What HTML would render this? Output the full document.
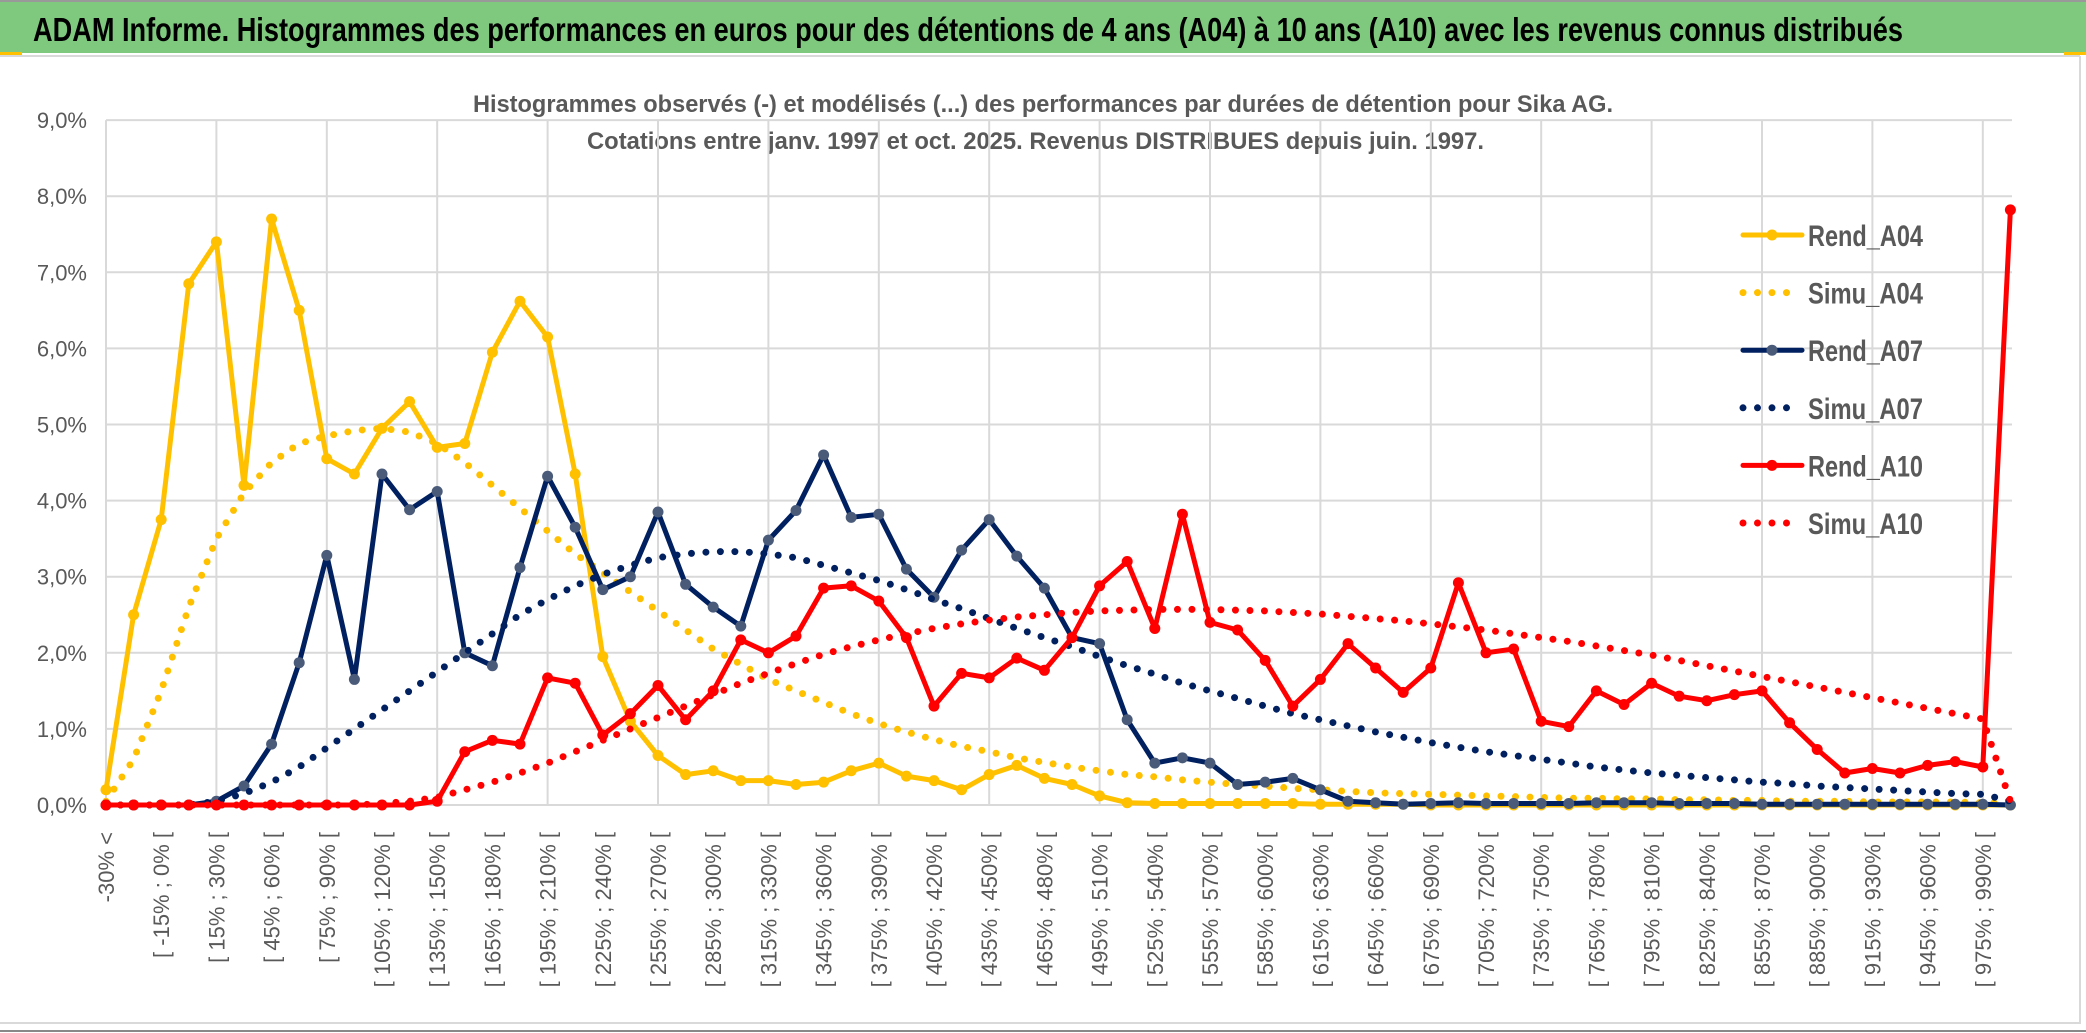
<!DOCTYPE html>
<html><head><meta charset="utf-8"><style>
html,body{margin:0;padding:0;background:#fff;}
svg{display:block;font-family:"Liberation Sans",sans-serif;}
</style></head><body>
<svg id="chart" width="2086" height="1033" viewBox="0 0 2086 1033">
<rect x="0" y="0" width="2086" height="1033" fill="#fff"/>
<rect x="0" y="2" width="2086" height="51" fill="#7ec97e"/>
<line x1="0" y1="1" x2="2086" y2="1" stroke="#999" stroke-width="2"/>
<rect x="0" y="52" width="22" height="3" fill="#ffc000"/>
<rect x="2064" y="52" width="22" height="3" fill="#ffc000"/>
<line x1="0" y1="56" x2="2080" y2="56" stroke="#d9d9d9" stroke-width="2"/>
<line x1="2080" y1="56" x2="2080" y2="1024" stroke="#d9d9d9" stroke-width="2"/>
<line x1="0" y1="1023" x2="2080" y2="1023" stroke="#d9d9d9" stroke-width="2"/>
<line x1="0" y1="1031" x2="2086" y2="1031" stroke="#888" stroke-width="2"/>
<text x="33" y="41" font-size="33" font-weight="bold" fill="#000" textLength="1870" lengthAdjust="spacingAndGlyphs">ADAM Informe. Histogrammes des performances en euros pour des détentions de 4 ans (A04) à 10 ans (A10) avec les revenus connus distribués</text>
<text x="473" y="112" font-size="24" font-weight="bold" fill="#595959" textLength="1140" lengthAdjust="spacingAndGlyphs">Histogrammes observés (-) et modélisés (...) des performances par durées de détention pour Sika AG.</text>
<text x="587" y="149" font-size="24" font-weight="bold" fill="#595959" textLength="897" lengthAdjust="spacingAndGlyphs">Cotations entre janv. 1997 et oct. 2025. Revenus DISTRIBUES depuis juin. 1997.</text>
<g id="grid"></g>
<g id="ylabels"></g>
<g id="xlabels"></g>
<g id="series"></g>
<g id="legend"></g>
</svg>
<script>
const categories = ["-30% <","[ -30% ; -15% [","[ -15% ; 0% [","[ 0% ; 15% [","[ 15% ; 30% [","[ 30% ; 45% [","[ 45% ; 60% [","[ 60% ; 75% [","[ 75% ; 90% [","[ 90% ; 105% [",
"[ 105% ; 120% [","[ 120% ; 135% [","[ 135% ; 150% [","[ 150% ; 165% [","[ 165% ; 180% [","[ 180% ; 195% [","[ 195% ; 210% [","[ 210% ; 225% [","[ 225% ; 240% [","[ 240% ; 255% [",
"[ 255% ; 270% [","[ 270% ; 285% [","[ 285% ; 300% [","[ 300% ; 315% [","[ 315% ; 330% [","[ 330% ; 345% [","[ 345% ; 360% [","[ 360% ; 375% [","[ 375% ; 390% [","[ 390% ; 405% [",
"[ 405% ; 420% [","[ 420% ; 435% [","[ 435% ; 450% [","[ 450% ; 465% [","[ 465% ; 480% [","[ 480% ; 495% [","[ 495% ; 510% [","[ 510% ; 525% [","[ 525% ; 540% [","[ 540% ; 555% [",
"[ 555% ; 570% [","[ 570% ; 585% [","[ 585% ; 600% [","[ 600% ; 615% [","[ 615% ; 630% [","[ 630% ; 645% [","[ 645% ; 660% [","[ 660% ; 675% [","[ 675% ; 690% [","[ 690% ; 705% [",
"[ 705% ; 720% [","[ 720% ; 735% [","[ 735% ; 750% [","[ 750% ; 765% [","[ 765% ; 780% [","[ 780% ; 795% [","[ 795% ; 810% [","[ 810% ; 825% [","[ 825% ; 840% [","[ 840% ; 855% [",
"[ 855% ; 870% [","[ 870% ; 885% [","[ 885% ; 900% [","[ 900% ; 915% [","[ 915% ; 930% [","[ 930% ; 945% [","[ 945% ; 960% [","[ 960% ; 975% [","[ 975% ; 990% [","990% <="];
const yTicks = [0,1,2,3,4,5,6,7,8,9];
const yTickLabels = ["0,0%","1,0%","2,0%","3,0%","4,0%","5,0%","6,0%","7,0%","8,0%","9,0%"];
const rendA04 = [0.2,2.5,3.75,6.85,7.4,4.2,7.7,6.5,4.55,4.35,4.95,5.3,4.7,4.75,5.95,6.62,6.15,4.35,1.95,1.1,0.65,0.4,0.45,0.32,0.32,0.27,0.3,0.45,0.55,0.38,0.32,0.2,0.4,0.52,0.35,0.27,0.12,0.03,0.02,0.02,0.02,0.02,0.02,0.02,0.01,0.01,0.01,0.01,0,0,0,0,0,0,0,0,0,0,0,0,0,0,0,0,0,0,0,0,0,0];
const simuA04 = [0.05,0.6,1.5,2.6,3.5,4.1,4.5,4.75,4.85,4.92,4.95,4.9,4.75,4.5,4.2,3.9,3.6,3.3,3.05,2.8,2.55,2.3,2.05,1.85,1.65,1.5,1.35,1.2,1.07,0.96,0.86,0.77,0.7,0.62,0.56,0.5,0.45,0.4,0.37,0.33,0.3,0.27,0.25,0.22,0.2,0.18,0.16,0.15,0.14,0.13,0.12,0.11,0.1,0.09,0.09,0.08,0.08,0.07,0.07,0.06,0.06,0.05,0.05,0.05,0.04,0.04,0.04,0.04,0.03,0.03];
const rendA07 = [0,0,0,0,0.05,0.25,0.8,1.87,3.28,1.65,4.35,3.88,4.12,2.0,1.83,3.12,4.32,3.65,2.83,3.0,3.85,2.9,2.6,2.35,3.48,3.87,4.6,3.78,3.82,3.1,2.73,3.35,3.75,3.27,2.85,2.2,2.12,1.12,0.55,0.62,0.55,0.27,0.3,0.35,0.2,0.05,0.03,0.01,0.02,0.03,0.02,0.02,0.02,0.02,0.03,0.03,0.03,0.02,0.02,0.02,0.01,0.01,0.01,0.01,0.01,0.01,0.01,0.01,0.01,0];
const simuA07 = [0,0,0,0,0.05,0.15,0.3,0.5,0.75,1.0,1.25,1.5,1.75,2.0,2.25,2.5,2.7,2.88,3.03,3.15,3.25,3.3,3.33,3.33,3.3,3.25,3.15,3.05,2.95,2.83,2.7,2.58,2.45,2.32,2.2,2.08,1.95,1.83,1.72,1.6,1.5,1.4,1.3,1.2,1.12,1.04,0.96,0.89,0.82,0.76,0.7,0.65,0.6,0.55,0.5,0.46,0.42,0.39,0.36,0.33,0.3,0.28,0.25,0.23,0.21,0.19,0.17,0.15,0.14,0.05];
const rendA10 = [0,0,0,0,0,0,0,0,0,0,0,0,0.05,0.7,0.85,0.8,1.67,1.6,0.92,1.2,1.57,1.12,1.5,2.17,2.0,2.22,2.85,2.88,2.68,2.2,1.3,1.73,1.67,1.93,1.77,2.2,2.88,3.2,2.32,3.82,2.4,2.3,1.9,1.3,1.65,2.12,1.8,1.48,1.8,2.92,2.0,2.05,1.1,1.03,1.5,1.32,1.6,1.43,1.37,1.45,1.5,1.08,0.73,0.42,0.48,0.42,0.52,0.57,0.5,7.82];
const simuA10 = [0,0,0,0,0,0,0,0,0,0,0.02,0.05,0.1,0.2,0.3,0.42,0.55,0.7,0.85,1.0,1.15,1.3,1.45,1.6,1.73,1.86,1.98,2.08,2.17,2.25,2.32,2.38,2.43,2.47,2.5,2.53,2.55,2.56,2.57,2.57,2.57,2.56,2.55,2.53,2.51,2.48,2.45,2.42,2.38,2.34,2.3,2.25,2.2,2.15,2.09,2.03,1.97,1.9,1.83,1.76,1.69,1.62,1.55,1.48,1.41,1.34,1.27,1.2,1.13,0.05];
const seriesNames = ["Rend_A04","Simu_A04","Rend_A07","Simu_A07","Rend_A10","Simu_A10"];

const NS="http://www.w3.org/2000/svg";
const X0=106, DX=27.6, Y0=805, DY=76.1, XR=2012;
function xs(i){return X0+i*DX;}
function ys(v){return Y0-v*DY;}
function mk(tag,attrs,parent){const e=document.createElementNS(NS,tag);for(const k in attrs)e.setAttribute(k,attrs[k]);parent.appendChild(e);return e;}

const grid=document.getElementById('grid');
yTicks.forEach(t=>{
  const l=mk('line',{x1:X0,x2:XR,y1:ys(t),y2:ys(t),stroke:'#d9d9d9','stroke-width':2},grid);
  
  
});
for(let i=0;i<categories.length;i+=4){
  const l=mk('line',{x1:xs(i),x2:xs(i),y1:ys(9),y2:ys(0),stroke:'#d9d9d9','stroke-width':2},grid);
  
  
}
const yl=document.getElementById('ylabels');
yTicks.forEach((t,k)=>{
  const tx=mk('text',{x:87,y:ys(t)+8,'text-anchor':'end','font-size':22,fill:'#595959'},yl);
  tx.textContent=yTickLabels[k];
  
  
});
const xl=document.getElementById('xlabels');
categories.forEach((c,i)=>{
  if(i%2) return;
  const x=xs(i)+8, y=832;
  const tx=mk('text',{x:x,y:y,'text-anchor':'end','font-size':22,fill:'#595959',transform:`rotate(-90 ${x} ${y})`},xl);
  tx.textContent=c;
  
  
});

const sg=document.getElementById('series');
function drawRend(vals,color,mfill,name){
  const g=mk('g',{},sg);
  
  
  const pts=vals.map((v,i)=>xs(i).toFixed(1)+','+ys(v).toFixed(1)).join(' ');
  mk('polyline',{points:pts,fill:'none',stroke:color,'stroke-width':5,'stroke-linejoin':'round'},g);
  vals.forEach((v,i)=>{
    const c=mk('circle',{cx:xs(i),cy:ys(v),r:5.5,fill:mfill},g);
    
    
  });
}
function drawSimu(vals,color,name){
  const pts=vals.map((v,i)=>xs(i).toFixed(1)+','+ys(v).toFixed(1)).join(' ');
  const p=mk('polyline',{points:pts,fill:'none',stroke:color,'stroke-width':7,'stroke-linecap':'round','stroke-dasharray':'0 14.5'},sg);
  
  
}
drawRend(rendA04,'#ffc000','#ffc000','rend-a04-line');
drawSimu(simuA04,'#ffc000','simu-a04-line');
drawRend(rendA07,'#002060','#4a5b7a','rend-a07-line');
drawSimu(simuA07,'#002060','simu-a07-line');
drawRend(rendA10,'#ff0000','#ff0000','rend-a10-line');
drawSimu(simuA10,'#ff0000','simu-a10-line');

const lg=document.getElementById('legend');
const lcol=['#ffc000','#ffc000','#002060','#002060','#ff0000','#ff0000'];
const lmk=['#ffc000',null,'#4a5b7a',null,'#ff0000',null];
seriesNames.forEach((n,k)=>{
  const y=235+k*57.6;
  const g=mk('g',{},lg);
  
  
  if(k%2===0){
    mk('line',{x1:1743,x2:1802,y1:y,y2:y,stroke:lcol[k],'stroke-width':5,'stroke-linecap':'round'},g);
    mk('circle',{cx:1772,cy:y,r:5.5,fill:lmk[k]},g);
  } else {
    mk('line',{x1:1743,x2:1792,y1:y,y2:y,stroke:lcol[k],'stroke-width':7,'stroke-linecap':'round','stroke-dasharray':'0 14.5'},g);
  }
  const t=mk('text',{x:1808,y:y+11,'font-size':30,'font-weight':'bold',fill:'#595959',textLength:115,lengthAdjust:'spacingAndGlyphs'},g);
  t.textContent=n;
});
</script>
</body></html>
